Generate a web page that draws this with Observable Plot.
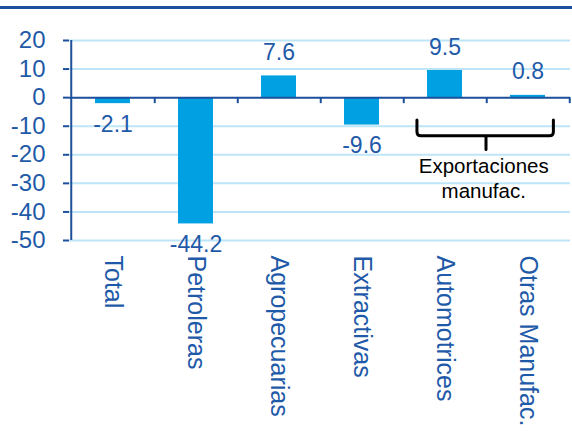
<!DOCTYPE html>
<html><head><meta charset="utf-8">
<script src="https://cdn.jsdelivr.net/npm/d3@7"></script>
<script src="https://cdn.jsdelivr.net/npm/@observablehq/plot@0.6"></script>
<style>
body{margin:0;background:#fff;}
#rule{margin-top:6px;border-top:3px solid #1D4F9F;width:572px;}
</style>
</head><body>
<div id="rule"></div>
<div id="chart"></div>
<script>
const categories = ["Total","Petroleras","Agropecuarias","Extractivas","Automotrices","Otras Manufac."];
const values = [-2.1,-44.2,7.6,-9.6,9.5,0.8];
const yTicks = [20,10,0,-10,-20,-30,-40,-50];
const bracketGroup = ["Automotrices","Otras Manufac."];
const bracketLabel = "Exportaciones\nmanufac.";

const data = categories.map((c,i)=>({cat:c, value:values[i]}));
const W = 572, H = 422, ML = 69, MR = 2, MT = 31, MB = 191;
const step = (W - ML - MR) / categories.length;
const textColor = "#1F5AA8", axisColor = "#1C4F9C", barColor = "#00A0E3", gridColor = "#BEE5F7";
const font = "Liberation Sans, Arial, sans-serif";

function brace(index, scales) {
  const x = scales.x, y = scales.y;
  const bw = x.bandwidth ? x.bandwidth() : 0.42*step;
  const c0 = x(bracketGroup[0]) + bw/2, c1 = x(bracketGroup[1]) + bw/2;
  const L = c0 - 0.33*step, R = c1 + 0.31*step, M = (c0 + c1)/2;
  const yT = y(-8), yH = y(-13.5), yP = y(-18.3), r = 4;
  const g = d3.create("svg:g");
  g.append("path")
    .attr("d", `M${L},${yT}V${yH-r}Q${L},${yH} ${L+r},${yH}H${R-r}Q${R},${yH} ${R},${yH-r}V${yT}M${M},${yH}V${yP}`)
    .attr("fill","none").attr("stroke","#000").attr("stroke-width",3)
    .attr("stroke-linecap","round").attr("stroke-linejoin","round");
  return g.node();
}

const chart = Plot.plot({
  width: W, height: H,
  marginLeft: ML, marginRight: MR, marginTop: MT, marginBottom: MB,
  style: {fontFamily: font, background: "#fff"},
  x: {domain: categories, paddingInner: 0.58, paddingOuter: 0.29},
  y: {domain: [-50, 20]},
  marks: [
    Plot.ruleY(yTicks.filter(d => d !== 0), {stroke: gridColor, strokeWidth: 2}),
    Plot.barY(data, {x: "cat", y: "value", fill: barColor}),
    Plot.ruleY([0], {stroke: axisColor, strokeWidth: 2}),
    Plot.ruleX(categories, {x: d => d, dx: step/2, y1: 0, y2: 0, insetTop: 0, insetBottom: -6, stroke: axisColor, strokeWidth: 2}),
    Plot.ruleX([categories[0]], {x: d => d, dx: -step/2, y1: -50, y2: 20, stroke: axisColor, strokeWidth: 2}),
    Plot.axisY({ticks: yTicks, tickSize: 6, tickPadding: 18, fontSize: 24, color: textColor, stroke: axisColor, strokeWidth: 2, label: null, tickFormat: d => String(d)}),
    Plot.axisX({tickSize: 0, tickRotate: 90, tickPadding: 15, fontSize: 25, color: textColor, label: null}),
    Plot.text(data.filter(d => d.value >= 0), {x: "cat", y: "value", text: d => d.value.toFixed(1), lineAnchor: "bottom", dy: -16, fontSize: 23, fill: textColor}),
    Plot.text(data.filter(d => d.value < 0), {x: "cat", y: "value", text: d => d.value.toFixed(1), lineAnchor: "top", dy: 12, fontSize: 23, fill: textColor}),
    brace,
    Plot.text([bracketLabel], {x: () => bracketGroup[0], y: () => -20.3, text: d => d, dx: step/2 - 3, lineAnchor: "top", lineHeight: 1.2, fontSize: 20.5, fill: "#000"})
  ]
});
document.getElementById("chart").appendChild(chart);
</script>
</body></html>
